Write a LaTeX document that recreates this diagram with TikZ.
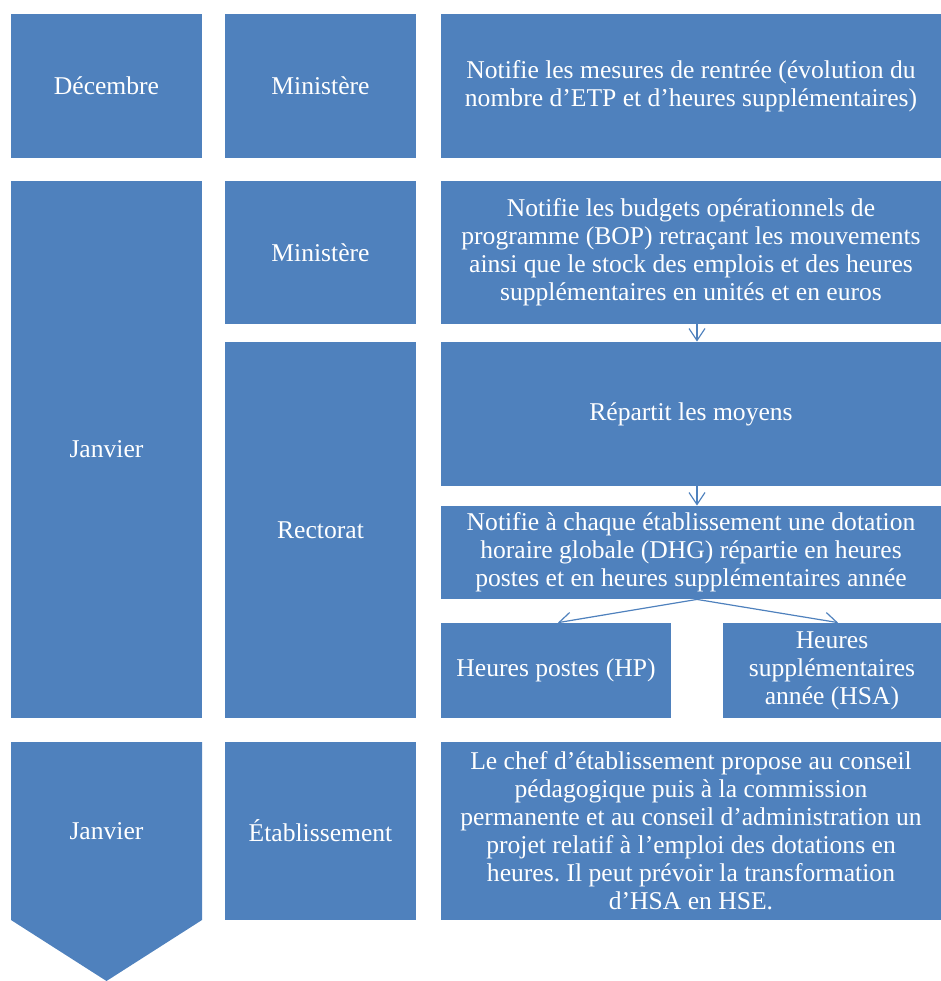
\documentclass[tikz,border=0pt]{standalone}
\usepackage{fontspec}
\setmainfont{Liberation Serif}
\frenchspacing
\usetikzlibrary{arrows.meta}
\definecolor{cellblue}{RGB}{79,129,189}
\tikzset{
  cell/.style={
    rectangle,
    fill=cellblue,
    draw=none,
    text=white,
    align=center,
    inner sep=0pt,
    font=\fontsize{12.8}{14}\selectfont
  },
  narrow/.style={cell, minimum width=95.5pt},
  wide/.style={cell, minimum width=250pt},
  link/.style={
    draw=cellblue,
    line width=0.6pt,
    -{Straight Barb[length=6pt,width=8pt,line width=0.6pt]}
  }
}
\begin{document}
\begin{tikzpicture}[x=0.5pt, y=-0.5pt]
  \useasboundingbox (0,0) rectangle (941,981);
  % first row
  \node[narrow, minimum height=72pt] (dec) at (106.5,86) {Décembre};
  \node[narrow, minimum height=72pt] (min1) at (320.5,86) {Ministère};
  \node[wide, minimum height=72pt] (notif) at (691,86)
    {Notifie les mesures de rentrée (évolution du\\
     nombre d’ETP et d’heures supplémentaires)};
  % second row
  \node[narrow, minimum height=268.5pt] (jan1) at (106.5,449.5) {Janvier};
  \node[narrow, minimum height=71.5pt] (min2) at (320.5,252.5) {Ministère};
  \node[wide, minimum height=71.5pt] (bop) at (691,252.5)
    {Notifie les budgets opérationnels de\\
     programme (BOP) retraçant les mouvements\\
     ainsi que le stock des emplois et des heures\\
     supplémentaires en unités et en euros};
  \node[narrow, minimum height=188pt] (rect) at (320.5,530) {Rectorat};
  \node[wide, minimum height=72pt] (rep) at (691,414) {Répartit les moyens};
  \node[wide, minimum height=46.5pt] (dhg) at (691,552.5)
    {Notifie à chaque établissement une dotation\\
     horaire globale (DHG) répartie en heures\\
     postes et en heures supplémentaires année};
  \node[cell, minimum width=115pt, minimum height=47.5pt] (hp) at (556,670.5)
    {Heures postes (HP)};
  \node[cell, minimum width=109pt, minimum height=47.5pt] (hsa) at (832,670.5)
    {Heures\\ supplémentaires\\ année (HSA)};
  % third row
  \fill[cellblue] (11,742) -- (202,742) -- (202,920) -- (106.5,981)
    -- (11,920) -- cycle;
  \node[cell, fill=none] (jan2) at (106.5,831) {Janvier};
  \node[narrow, minimum height=89pt] (etab) at (320.5,831) {Établissement};
  \node[wide, minimum height=89pt] (chef) at (691,831)
    {Le chef d’établissement propose au conseil\\
     pédagogique puis à la commission\\
     permanente et au conseil d’administration un\\
     projet relatif à l’emploi des dotations en\\
     heures. Il peut prévoir la transformation\\
     d’HSA en HSE.};
  % arrows
  \coordinate (split) at ([xshift=3pt]dhg.south);
  \draw[link] ([xshift=3pt]bop.south) -- ([xshift=3pt]rep.north);
  \draw[link] ([xshift=3pt]rep.south) -- ([xshift=3pt]dhg.north);
  \draw[link] (split) -- ([xshift=1pt]hp.north);
  \draw[link] (split) -- ([xshift=3pt]hsa.north);
\end{tikzpicture}
\end{document}
